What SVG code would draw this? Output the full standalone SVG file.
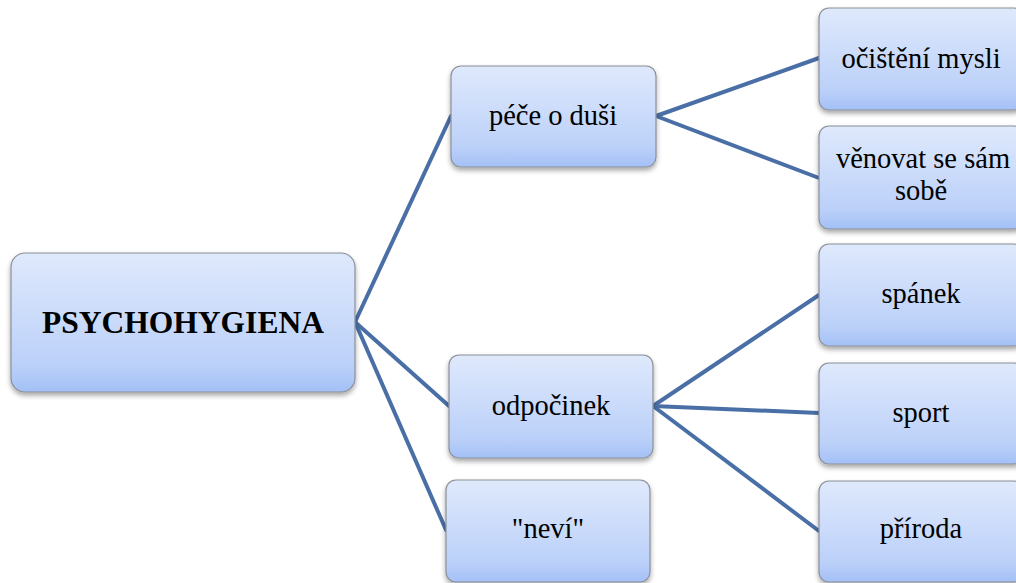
<svg xmlns="http://www.w3.org/2000/svg" width="1016" height="583" viewBox="0 0 1016 583">
<defs>
<linearGradient id="g" x1="0" y1="0" x2="0" y2="1">
<stop offset="0" stop-color="#dfe9fc"/>
<stop offset="0.8" stop-color="#bcd1f9"/>
<stop offset="1" stop-color="#a3c0f6"/>
</linearGradient>
<filter id="sh" x="-10%" y="-10%" width="120%" height="130%">
<feDropShadow dx="0" dy="3" stdDeviation="2.5" flood-color="#000" flood-opacity="0.35"/>
</filter>
</defs>
<style>
.box{fill:url(#g);stroke:#8a8f98;stroke-width:1.2;filter:url(#sh)}
.t{font-size:28.5px;fill:#000;text-anchor:middle}
.b{font-weight:bold;font-size:31.5px}
.c{stroke:#4a6fa6;stroke-width:4;fill:none;stroke-linecap:round}
</style>
<rect width="1016" height="583" fill="#fff"/>
<g id="connectors">
<line class="c" x1="355" y1="322" x2="451" y2="116"/>
<line class="c" x1="355" y1="322" x2="449" y2="406"/>
<line class="c" x1="355" y1="322" x2="446" y2="530"/>
<line class="c" x1="656" y1="116" x2="819" y2="58"/>
<line class="c" x1="656" y1="116" x2="819" y2="178"/>
<line class="c" x1="653" y1="406" x2="819" y2="295"/>
<line class="c" x1="653" y1="406" x2="819" y2="413"/>
<line class="c" x1="653" y1="406" x2="819" y2="531"/>
</g>
<g font-family="'Liberation Serif', 'Times New Roman', serif">
<g id="psychohygiena">
<rect class="box" x="11" y="253" width="344" height="139" rx="14"/>
<text class="t b" x="183" y="333">PSYCHOHYGIENA</text>
</g>
<g id="pece">
<rect class="box" x="451" y="66" width="205" height="101" rx="10"/>
<text class="t" x="553" y="125">péče o duši</text>
</g>
<g id="odpocinek">
<rect class="box" x="449" y="355" width="204" height="103" rx="10"/>
<text class="t" x="551" y="415">odpočinek</text>
</g>
<g id="nevi">
<rect class="box" x="446" y="480" width="204" height="102" rx="10"/>
<text class="t" x="548" y="538">"neví"</text>
</g>
<g id="ocisteni">
<rect class="box" x="819" y="8" width="205" height="102" rx="10"/>
<text class="t" x="921" y="68">očištění mysli</text>
</g>
<g id="venovat">
<rect class="box" x="819" y="126" width="205" height="103" rx="10"/>
<text class="t" x="923" y="168">věnovat se sám</text>
<text class="t" x="921" y="200">sobě</text>
</g>
<g id="spanek">
<rect class="box" x="819" y="244" width="205" height="102" rx="10"/>
<text class="t" x="921" y="303">spánek</text>
</g>
<g id="sport">
<rect class="box" x="819" y="363" width="205" height="101" rx="10"/>
<text class="t" x="921" y="422">sport</text>
</g>
<g id="priroda">
<rect class="box" x="819" y="481" width="205" height="101" rx="10"/>
<text class="t" x="921" y="538">příroda</text>
</g>
</g>
</svg>
